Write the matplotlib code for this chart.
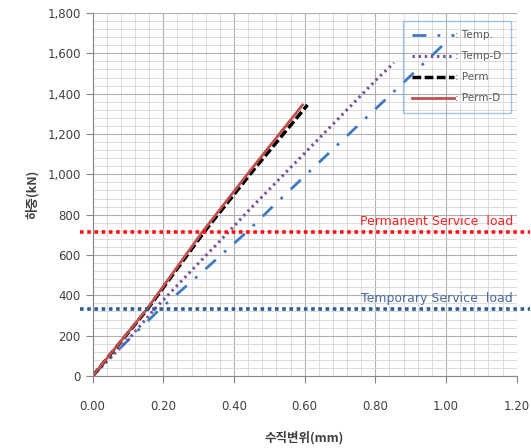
import matplotlib.pyplot as plt
from matplotlib.ticker import MultipleLocator, FuncFormatter

plt.rcParams['font.family'] = ['DejaVu Sans', 'Noto Sans CJK KR']

# displacement (mm) / load (kN)
temp_x = [0.0, 0.035, 0.07, 0.12, 0.19, 0.30, 0.44, 0.504, 0.70, 0.862, 1.0]
temp_y = [0, 65, 125, 211, 331, 500, 720, 831, 1158, 1426, 1655]

tempd_x = [0.0, 0.05, 0.10, 0.175, 0.20, 0.30, 0.384, 0.447, 0.60, 0.806, 0.853]
tempd_y = [0, 90, 180, 331, 377, 560, 713, 831, 1105, 1475, 1553]

perm_x = [0.0, 0.155, 0.315, 0.455, 0.608]
perm_y = [0, 331, 713, 1021, 1344]

permd_x = [0.0, 0.155, 0.31, 0.447, 0.594]
permd_y = [0, 335, 713, 1021, 1344]

perm_service = 712
temp_service = 332

series = [
    (temp_x, temp_y, ': Temp.', '#3f7bc4', (0, (5, 4, 1, 4)), 2.0),
    (tempd_x, tempd_y, ': Temp-D', '#76559a', (0, (0.8, 1.2)), 2.2),
    (perm_x, perm_y, ': Perm', 'black', (0, (2.5, 1)), 2.5),
    (permd_x, permd_y, ': Perm-D', '#c0504d', '-', 2.0),
]

fig = plt.figure(figsize=(5.31, 4.48), dpi=100)
ax = fig.add_axes([0.1745, 0.1607, 0.7985, 0.8103])

for x, y, lab, col, ls, lw in series:
    ax.plot(x, y, color=col, linestyle=ls, linewidth=lw, label=lab)

ax.axhline(perm_service, xmin=-0.03, xmax=1.032, color='#ff1010',
           linestyle=(0, (1, 1)), linewidth=2.6, clip_on=False)
ax.axhline(temp_service, xmin=-0.03, xmax=1.032, color='#2f5d96',
           linestyle=(0, (1, 1)), linewidth=2.6, clip_on=False)
ax.text(1.19, perm_service + 22, 'Permanent Service  load', color='#ff2020',
        fontsize=9, ha='right', va='bottom')
ax.text(1.19, temp_service + 22, 'Temporary Service  load', color='#4a6a9c',
        fontsize=9, ha='right', va='bottom')

ax.set_xlim(0, 1.2)
ax.set_ylim(0, 1800)
ax.xaxis.set_major_locator(MultipleLocator(0.2))
ax.xaxis.set_minor_locator(MultipleLocator(0.04))
ax.yaxis.set_major_locator(MultipleLocator(200))
ax.yaxis.set_minor_locator(MultipleLocator(40))
ax.xaxis.set_major_formatter(FuncFormatter(lambda v, p: f'{v:.2f}'))
ax.yaxis.set_major_formatter(FuncFormatter(lambda v, p: f'{v:,.0f}'))

ax.grid(which='major', color='#b0b0b0', linewidth=0.8)
ax.grid(which='minor', color='#d6d6d6', linewidth=0.6)
ax.set_axisbelow(True)
for s in ['top', 'right']:
    ax.spines[s].set_visible(False)
for s in ['left', 'bottom']:
    ax.spines[s].set_color('#868686')
ax.tick_params(which='major', colors='#868686', labelcolor='#404040',
               labelsize=8.5, length=5)
ax.tick_params(axis='x', pad=12)
ax.tick_params(which='minor', length=0)

ax.set_xlabel('수직변위(mm)', family=['Noto Sans CJK KR'], fontsize=9,
              fontweight='bold', color='#404040', labelpad=13)
ax.set_ylabel('하중(kN)', family=['Noto Sans CJK KR'], fontsize=9,
              fontweight='bold', color='#404040', labelpad=6)

leg = ax.legend(loc='upper right', bbox_to_anchor=(0.998, 0.992),
                fontsize=7.5, handlelength=4.0, handletextpad=0.1,
                labelspacing=1.05, borderpad=0.9, fancybox=False,
                facecolor='none', edgecolor='#8eb4e3', labelcolor='#595959')
leg.get_frame().set_linewidth(1.0)

fig.savefig('out.png', dpi=100)
